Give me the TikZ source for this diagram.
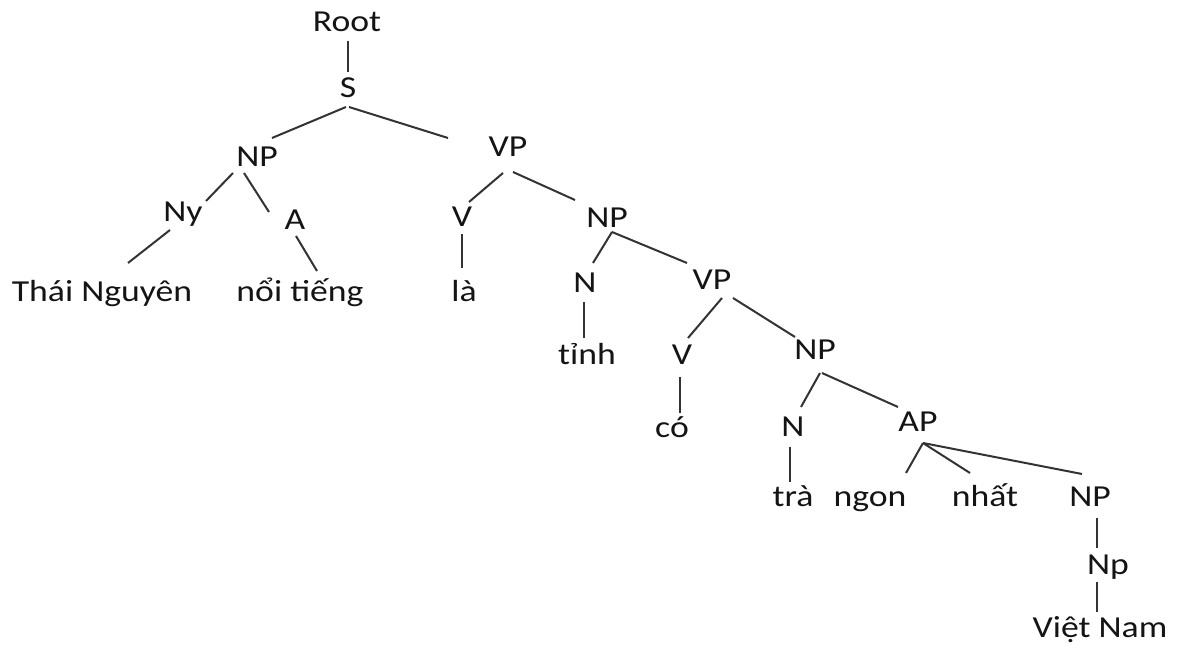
\documentclass[tikz,border=0pt]{standalone}
\usepackage{fontspec}
\setmainfont{Carlito}[FakeStretch=1.17]
\begin{document}
\begin{tikzpicture}[x=0.5pt,y=-0.5pt,
  word/.style={anchor=base,inner sep=0pt,outer sep=0pt,text=black!92,
    font=\fontsize{15.25}{18}\selectfont},
  branch/.style={draw=black!80,line width=1pt}]
\useasboundingbox (0,0) rectangle (1180,646);
% labels, placed on their baselines
\node[word] (root) at (347,32) {Root};
\node[word] (s)    at (348,98) {S};
\node[word] (np1)  at (257,167) {NP};
\node[word] (vp1)  at (508,157) {VP};
\node[word] (ny)   at (183,222) {Ny};
\node[word] (a)    at (295,230) {A};
\node[word] (v1)   at (462,227) {V};
\node[word] (np2)  at (607,228) {NP};
\node[word] (tn)   at (102,302) {Thái Nguyên};
\node[word] (nt)   at (300,302) {nổi tiếng};
\node[word] (la)   at (464,302) {là};
\node[word] (n1)   at (585,293) {N};
\node[word] (vp2)  at (712,290) {VP};
\node[word] (tinh) at (587,365) {tỉnh};
\node[word] (v2)   at (682,365) {V};
\node[word] (np3)  at (815,360) {NP};
\node[word] (co)   at (672,438) {có};
\node[word] (n2)   at (793,437) {N};
\node[word] (ap)   at (918,432) {AP};
\node[word] (tra)  at (793,507) {trà};
\node[word] (ngon) at (870,507) {ngon};
\node[word] (nhat) at (985,507) {nhất};
\node[word] (np4)  at (1090,507) {NP};
\node[word] (npp)  at (1108,575) {Np};
\node[word] (vn)   at (1100,638) {Việt Nam};
% branches
\draw[branch] ([shift={(1,9)}]root.base) -- ([shift={(0,-26)}]s.base);
\draw[branch] ([shift={(-2,9)}]s.base) -- ([shift={(15,-29)}]np1.base);
\draw[branch] ([shift={(1,9)}]s.base) -- ([shift={(-60,-19)}]vp1.base);
\draw[branch] ([shift={(-24,6)}]np1.base) -- ([shift={(23,-21)}]ny.base);
\draw[branch] ([shift={(-13,6)}]np1.base) -- ([shift={(-26,-18)}]a.base);
\draw[branch] ([shift={(-13,8)}]ny.base) -- ([shift={(26,-39)}]tn.base);
\draw[branch] ([shift={(1,6)}]a.base) -- ([shift={(17,-31)}]nt.base);
\draw[branch] ([shift={(-5,16)}]vp1.base) -- ([shift={(7,-25)}]v1.base);
\draw[branch] ([shift={(5,15)}]vp1.base) -- ([shift={(-32,-28)}]np2.base);
\draw[branch] ([shift={(0,7)}]v1.base) -- ([shift={(-2,-34)}]la.base);
\draw[branch] ([shift={(5,4)}]np2.base) -- ([shift={(8,-30)}]n1.base);
\draw[branch] ([shift={(5,4)}]np2.base) -- ([shift={(-25,-27)}]vp2.base);
\draw[branch] ([shift={(-1,9)}]n1.base) -- ([shift={(-3,-27)}]tinh.base);
\draw[branch] ([shift={(10,8)}]vp2.base) -- ([shift={(6,-27)}]v2.base);
\draw[branch] ([shift={(21,8)}]vp2.base) -- ([shift={(-20,-23)}]np3.base);
\draw[branch] ([shift={(-2,12)}]v2.base) -- ([shift={(8,-25)}]co.base);
\draw[branch] ([shift={(5,13)}]np3.base) -- ([shift={(8,-30)}]n2.base);
\draw[branch] ([shift={(7,13)}]np3.base) -- ([shift={(-20,-25)}]ap.base);
\draw[branch] ([shift={(-3,10)}]n2.base) -- ([shift={(-3,-25)}]tra.base);
\draw[branch] ([shift={(5,11)}]ap.base) -- ([shift={(36,-34)}]ngon.base);
\draw[branch] ([shift={(5,11)}]ap.base) -- ([shift={(-15,-34)}]nhat.base);
\draw[branch] ([shift={(5,11)}]ap.base) -- ([shift={(-8,-33)}]np4.base);
\draw[branch] ([shift={(7,11)}]np4.base) -- ([shift={(-11,-27)}]npp.base);
\draw[branch] ([shift={(-11,7)}]npp.base) -- ([shift={(-3,-26)}]vn.base);
\end{tikzpicture}
\end{document}
